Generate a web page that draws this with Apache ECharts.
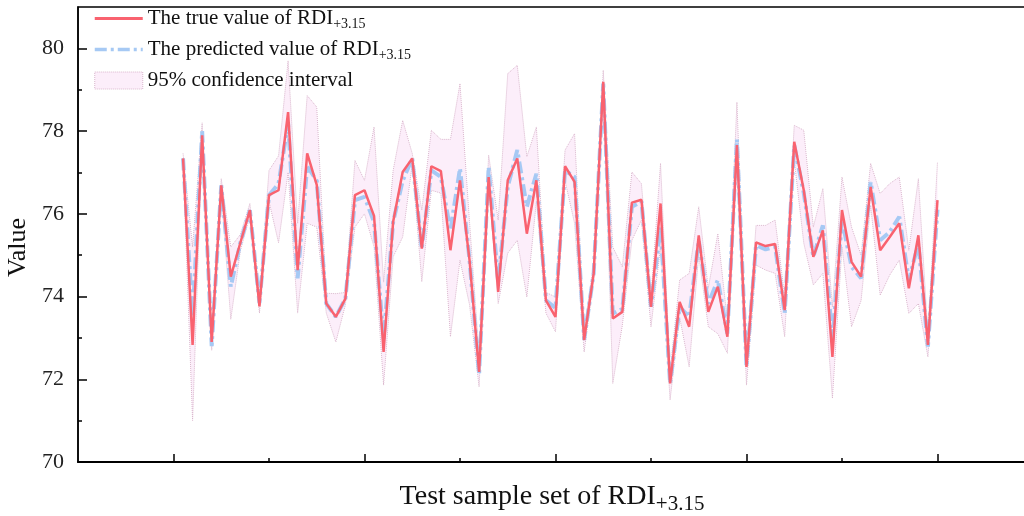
<!DOCTYPE html>
<html>
<head>
<meta charset="utf-8">
<title>RDI+3.15 test set</title>
<script src="https://cdn.jsdelivr.net/npm/echarts@6/dist/echarts.min.js"></script>
<style>
  html, body { margin: 0; padding: 0; background: #fff; }
  #chart { width: 1024px; height: 516px; }
</style>
</head>
<body>
<div id="chart"></div>
<script>
// measured RDI+3.15 of the test samples (sample 1..80)
var trueValues = [
  77.34, 72.83, 77.90, 72.90, 76.69, 74.48, 75.30, 76.09, 73.76, 76.45,
  76.57, 78.46, 74.64, 77.46, 76.70, 73.83, 73.51, 73.95, 76.45, 76.57,
  75.95, 72.66, 75.81, 77.01, 77.34, 75.16, 77.15, 77.03, 75.12, 76.81,
  74.88, 72.18, 76.89, 74.11, 76.81, 77.34, 75.52, 76.81, 73.91, 73.51,
  77.15, 76.77, 72.95, 74.56, 79.19, 73.47, 73.63, 76.27, 76.34, 73.75,
  76.25, 71.90, 73.87, 73.27, 75.48, 73.63, 74.24, 73.03, 77.66, 72.30,
  75.31, 75.22, 75.27, 73.67, 77.74, 76.57, 74.96, 75.60, 72.54, 76.09,
  74.84, 74.48, 76.65, 75.12, 75.44, 75.77, 74.20, 75.48, 72.83, 76.33
];
// model prediction
var predValues = [
  77.34, 73.50, 78.00, 72.80, 76.69, 74.24, 75.30, 76.09, 73.84, 76.45,
  76.73, 78.19, 74.44, 77.15, 76.80, 73.83, 73.51, 73.95, 76.33, 76.41,
  75.80, 72.98, 75.80, 76.80, 77.34, 75.16, 77.05, 76.89, 75.60, 77.10,
  74.88, 72.12, 77.13, 74.35, 76.65, 77.54, 76.17, 76.97, 73.91, 73.72,
  77.05, 76.89, 72.95, 74.56, 79.15, 73.59, 73.70, 76.17, 76.30, 73.75,
  75.68, 71.90, 73.75, 73.51, 75.36, 73.83, 74.40, 73.10, 77.80, 72.30,
  75.24, 75.14, 75.20, 73.60, 77.66, 76.50, 74.96, 75.72, 72.95, 75.85,
  74.72, 74.44, 76.77, 75.36, 75.56, 75.93, 74.40, 75.28, 72.79, 76.10
];
// 95% confidence interval bounds
var ciUpper = [
  77.46, 75.20, 78.20, 73.10, 76.85, 75.20, 75.50, 76.25, 74.00, 77.05,
  77.40, 79.70, 75.77, 78.86, 78.58, 74.08, 74.07, 74.10, 77.29, 76.81,
  78.10, 74.35, 77.05, 78.26, 77.46, 76.09, 78.02, 77.80, 77.80, 79.15,
  75.80, 72.60, 77.42, 75.85, 79.39, 79.59, 77.38, 78.10, 74.10, 73.99,
  77.54, 77.94, 73.20, 74.80, 79.47, 75.20, 74.72, 77.01, 76.73, 74.00,
  77.22, 72.20, 74.40, 74.56, 76.17, 74.20, 75.52, 73.40, 78.70, 72.60,
  75.72, 75.72, 75.85, 74.00, 78.14, 78.02, 75.68, 76.61, 73.75, 76.89,
  75.68, 75.00, 77.22, 76.49, 76.73, 76.89, 75.12, 76.85, 73.10, 77.25
];
var ciLower = [
  77.20, 71.00, 77.70, 72.70, 76.50, 73.45, 75.10, 75.95, 73.60, 76.30,
  75.30, 77.00, 73.60, 75.77, 75.68, 73.60, 72.90, 73.80, 75.68, 76.00,
  75.20, 71.86, 74.96, 75.44, 77.20, 74.36, 76.57, 76.50, 73.03, 74.88,
  73.80, 71.82, 76.70, 73.83, 75.05, 75.36, 73.99, 76.30, 73.60, 73.15,
  76.80, 75.77, 72.66, 74.40, 79.00, 71.90, 73.30, 75.36, 75.85, 73.27,
  75.20, 71.50, 73.50, 72.30, 75.00, 73.27, 73.10, 72.63, 77.30, 71.86,
  74.76, 74.64, 74.56, 73.03, 77.30, 75.29, 74.28, 74.56, 71.54, 75.20,
  73.27, 73.90, 76.20, 74.03, 74.52, 74.88, 73.59, 73.83, 72.54, 75.90
];

var yTicks = [70, 72, 74, 76, 78, 80];
var yMinorTicks = [71, 73, 75, 77, 79];
var xTicks = [0, 20, 40, 60, 80];
var xMinorTicks = [10, 30, 50, 70];

var serif = "'Liberation Serif', 'Times New Roman', serif";
var NAME_TRUE = 'The true value of RDI+3.15';
var NAME_PRED = 'The predicted value of RDI+3.15';
var NAME_CI = '95% confidence interval';
var RED = '#F9626F';
var BLUE = '#A6C9F4';
var BAND_FILL = '#FCEEFA';
var BAND_EDGE = '#D9B6CC';
var PRED_DASH = [12, 4, 3, 4];

function pairs(arr) {
  return arr.map(function (v, i) { return [i + 1, v]; });
}

var bandData = ciLower.map(function (lo, i) { return [i + 1, lo, ciUpper[i]]; });

// the whole band is one polygon, drawn once from the first item
function renderBand(params, api) {
  if (params.dataIndex !== 0) return;
  var pts = [];
  for (var i = 0; i < bandData.length; i++) pts.push(api.coord([bandData[i][0], bandData[i][2]]));
  for (var j = bandData.length - 1; j >= 0; j--) pts.push(api.coord([bandData[j][0], bandData[j][1]]));
  return { type: 'polygon', shape: { points: pts }, style: { fill: BAND_FILL } };
}

var chart = echarts.init(document.getElementById('chart'));

var minorAxisBase = {
  type: 'value',
  axisLine: { show: false, onZero: false },
  axisLabel: { show: false },
  splitLine: { show: false }
};

var option = {
  animation: false,
  grid: {
    left: 78,
    right: -2,
    top: 7,
    bottom: 54,
    show: true,
    borderColor: '#000',
    borderWidth: 1.5,
    outerBoundsMode: 'none',
    containLabel: false
  },
  legend: {
    orient: 'vertical',
    left: 93,
    top: 8,
    padding: 0,
    itemWidth: 48,
    itemHeight: 17,
    itemGap: 8,
    data: [
      {
        name: NAME_TRUE,
        itemStyle: { color: 'rgba(0,0,0,0)', borderWidth: 0 },
        lineStyle: { color: RED, width: 3 }
      },
      {
        name: NAME_PRED,
        itemStyle: { color: 'rgba(0,0,0,0)', borderWidth: 0 },
        lineStyle: { color: BLUE, width: 3.5, type: PRED_DASH }
      },
      {
        name: NAME_CI,
        icon: 'rect',
        itemStyle: { color: BAND_FILL, borderColor: BAND_EDGE, borderWidth: 1, borderType: 'dotted' }
      }
    ],
    formatter: function (name) {
      if (name === NAME_TRUE) return '{a|The true value of RDI}{s|+3.15}';
      if (name === NAME_PRED) return '{a|The predicted value of RDI}{s|+3.15}';
      return '{a|' + name + '}';
    },
    textStyle: {
      fontFamily: serif,
      fontSize: 21,
      color: '#111',
      rich: {
        a: { fontFamily: serif, fontSize: 21, color: '#111', lineHeight: 25 },
        s: { fontFamily: serif, fontSize: 14, color: '#111', lineHeight: 13, verticalAlign: 'bottom' }
      }
    }
  },
  xAxis: [
    {
      type: 'value',
      min: -10,
      max: 89.27,
      name: '{a|Test sample set of RDI}{s|+3.15}',
      nameLocation: 'middle',
      nameGap: 17,
      nameTextStyle: {
        fontFamily: serif,
        fontSize: 28,
        color: '#111',
        rich: {
          a: { fontFamily: serif, fontSize: 28, color: '#111', lineHeight: 36 },
          s: { fontFamily: serif, fontSize: 21, color: '#111', lineHeight: 16, verticalAlign: 'bottom' }
        }
      },
      axisLine: { show: true, onZero: false, lineStyle: { color: '#000', width: 2 } },
      axisTick: { show: true, inside: true, length: 8, customValues: xTicks, lineStyle: { color: '#000', width: 1.5 } },
      axisLabel: { show: false },
      splitLine: { show: false }
    },
    Object.assign({}, minorAxisBase, {
      position: 'bottom',
      min: -10,
      max: 89.27,
      axisTick: { show: true, inside: true, length: 4, customValues: xMinorTicks, lineStyle: { color: '#000', width: 1.5 } }
    })
  ],
  yAxis: [
    {
      type: 'value',
      min: 70,
      max: 81,
      name: 'Value',
      nameLocation: 'middle',
      nameGap: 44,
      nameTextStyle: { fontFamily: serif, fontSize: 26, color: '#111', padding: [0, 26, 0, 0] },
      axisLine: { show: true, onZero: false, lineStyle: { color: '#000', width: 1.5 } },
      axisTick: { show: true, inside: true, length: 9, customValues: yTicks, lineStyle: { color: '#000', width: 1.5 } },
      axisLabel: { customValues: yTicks, fontFamily: serif, fontSize: 22, color: '#222', margin: 14 },
      splitLine: { show: false }
    },
    Object.assign({}, minorAxisBase, {
      position: 'left',
      min: 70,
      max: 81,
      axisTick: { show: true, inside: true, length: 4, customValues: yMinorTicks, lineStyle: { color: '#000', width: 1.5 } }
    })
  ],
  series: [
    {
      name: NAME_CI,
      type: 'custom',
      renderItem: renderBand,
      data: bandData,
      encode: { x: 0, y: [1, 2] },
      itemStyle: { color: BAND_FILL },
      silent: true,
      z: 1
    },
    {
      name: 'ciUpperLine',
      type: 'line',
      data: pairs(ciUpper),
      symbol: 'none',
      lineStyle: { color: BAND_EDGE, width: 1, type: 'dotted' },
      silent: true,
      z: 2
    },
    {
      name: 'ciLowerLine',
      type: 'line',
      data: pairs(ciLower),
      symbol: 'none',
      lineStyle: { color: BAND_EDGE, width: 1, type: 'dotted' },
      silent: true,
      z: 2
    },
    {
      name: NAME_PRED,
      type: 'line',
      data: pairs(predValues),
      symbol: 'none',
      itemStyle: { color: BLUE },
      lineStyle: { color: BLUE, width: 4, type: PRED_DASH },
      z: 3
    },
    {
      name: NAME_TRUE,
      type: 'line',
      data: pairs(trueValues),
      symbol: 'none',
      itemStyle: { color: RED },
      lineStyle: { color: RED, width: 2.5 },
      z: 4
    }
  ]
};

chart.setOption(option);
</script>
</body>
</html>
